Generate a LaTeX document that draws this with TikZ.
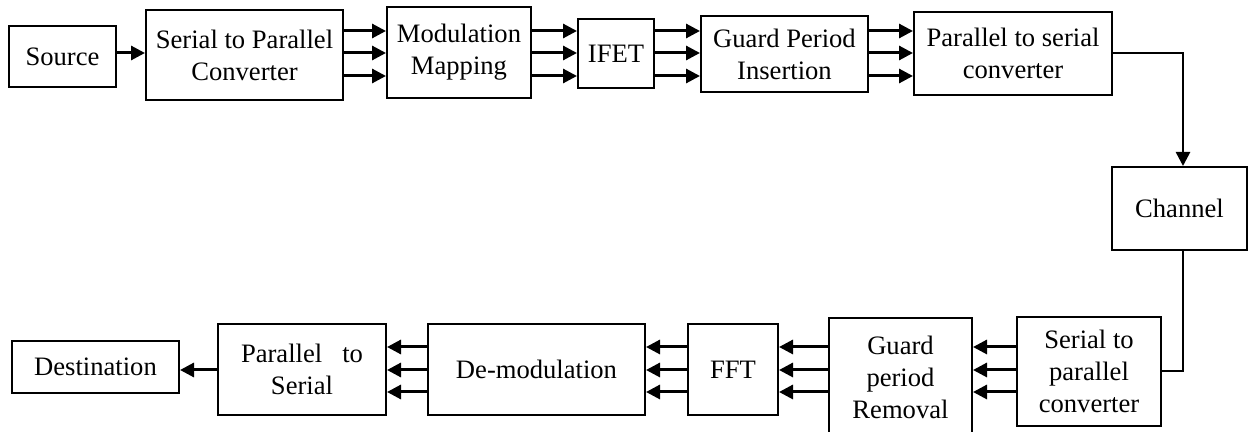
\documentclass[tikz,border=0pt]{standalone}
\usepackage{fontspec}
\setmainfont{Liberation Serif}
\usetikzlibrary{arrows.meta}
\begin{document}
\begin{tikzpicture}[x=0.5pt,y=-0.5pt,
  box/.style={draw,line width=1pt,rectangle,inner sep=0pt,align=center,
    font=\fontsize{13.3}{16}\selectfont},
  arr/.style={line width=1.5pt,-{Triangle[length=7pt,width=7pt]}},
  link/.style={line width=1.3pt}]
\useasboundingbox (0,0) rectangle (1248,432);

% transmitter chain
\node[box,minimum width=53.5pt,minimum height=30.5pt] (src)  at (62.5,56.5) {Source};
\node[box,minimum width=98.5pt,minimum height=45pt]   (s2p)  at (244.5,55)  {Serial to Parallel\\Converter};
\node[box,minimum width=72pt,minimum height=45.5pt]   (mod)  at (459,52.5)  {Modulation\\Mapping};
\node[box,minimum width=38pt,minimum height=34.5pt]   (ifet) at (616,53.5)  {IFET};
\node[box,minimum width=83.5pt,minimum height=38pt]   (gpi)  at (784.5,54)  {Guard Period\\Insertion};
\node[box,minimum width=99pt,minimum height=41.5pt]   (p2s)  at (1013,53.5) {Parallel to serial\\converter};

% channel
\node[box,minimum width=67.5pt,minimum height=41.5pt] (chan) at (1179.5,208.5) {Channel};

% receiver chain
\node[box,minimum width=72pt,minimum height=54.5pt]   (s2pr) at (1089,371.5) {Serial to\\parallel\\converter};
\node[box,minimum width=71.5pt,minimum height=59pt]   (gpr)  at (900.5,377) {Guard\\period\\Removal};
\node[box,minimum width=45pt,minimum height=45.5pt]   (fft)  at (733,369.5) {FFT};
\node[box,minimum width=108.5pt,minimum height=45.5pt] (dem) at (536.5,369.5) {De-modulation};
\node[box,minimum width=84pt,minimum height=45.5pt]   (p2sr) at (302,369.5) {Parallel\hspace{10pt}to\\Serial};
\node[box,minimum width=83.5pt,minimum height=26pt]   (dst)  at (95.5,367)  {Destination};

% serial links
\draw[arr] (src.east |- 0,53) -- (s2p.west |- 0,53);
\draw[arr] (p2sr.west |- 0,370) -- (dst.east |- 0,370);

% parallel links, transmitter
\foreach \y in {31,53,76}{
  \draw[arr] (s2p.east |- 0,\y) -- (mod.west |- 0,\y);
  \draw[arr] (mod.east |- 0,\y) -- (ifet.west |- 0,\y);
  \draw[arr] (ifet.east |- 0,\y) -- (gpi.west |- 0,\y);
  \draw[arr] (gpi.east |- 0,\y) -- (p2s.west |- 0,\y);
}

% parallel links, receiver
\foreach \y in {347,370,392}{
  \draw[arr] (s2pr.west |- 0,\y) -- (gpr.east |- 0,\y);
  \draw[arr] (gpr.west |- 0,\y) -- (fft.east |- 0,\y);
  \draw[arr] (fft.west |- 0,\y) -- (dem.east |- 0,\y);
  \draw[arr] (dem.west |- 0,\y) -- (p2sr.east |- 0,\y);
}

% through the channel
\coordinate (tx) at (1183,53);
\coordinate (rx) at (1183,371);
\draw[link,-{Triangle[length=7pt,width=7pt]}] (p2s.east |- tx) -- (tx) -- (tx |- chan.north);
\draw[link] (chan.south -| rx) -- (rx) -- (s2pr.east |- rx);
\end{tikzpicture}
\end{document}
